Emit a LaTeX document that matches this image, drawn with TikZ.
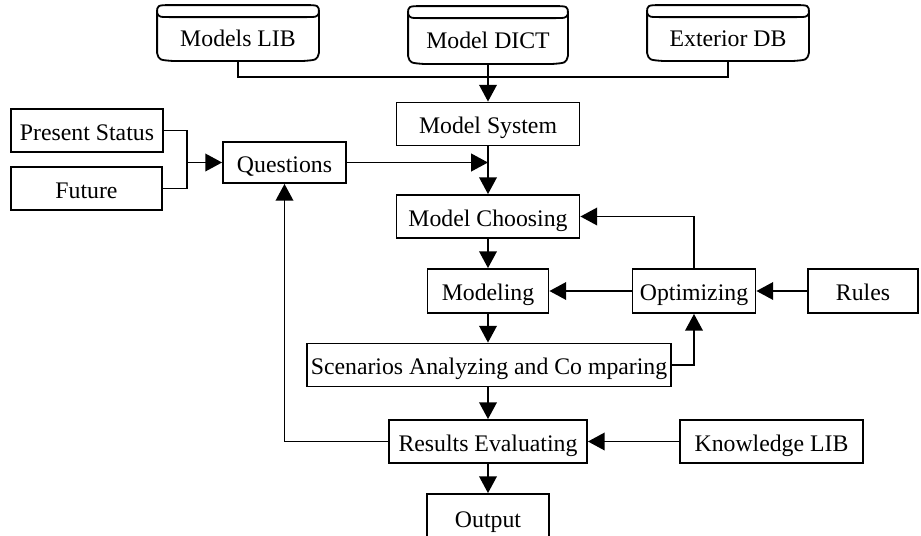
\documentclass[tikz,border=0pt]{standalone}
\usepackage{fontspec}
\setmainfont{Liberation Serif}
\usetikzlibrary{arrows.meta, positioning, calc}

\begin{document}
\begin{tikzpicture}[
    x=0.025cm, y=-0.025cm,
    line width=1.3pt,
    every node/.style={font=\fontsize{16.9}{20}\selectfont, inner sep=0pt},
    box/.style={draw, minimum height=43*0.025cm, text height=0.55cm, text depth=0.06cm},
    db/.style={minimum height=54*0.025cm, text height=0.72cm, text depth=0.055cm},
    arr/.style={-{Triangle[length=0.42cm, width=0.44cm]}}
]
    \useasboundingbox (0,0) rectangle (921,535);

    % --- data sources ---
    \node[db, minimum width=160*0.025cm] (mlib) at (238,33) {Models LIB};
    \node[db, minimum width=158*0.025cm, minimum height=56*0.025cm] (mdict) at (488,35) {Model DICT};
    \node[db, minimum width=160*0.025cm] (extdb) at (728,33) {Exterior DB};
    \foreach \n in {mlib,mdict,extdb} {
        \draw ([shift={(0,8)}]\n.north west) .. controls (\n.north west) .. ([shift={(15,0)}]\n.north west)
            -- ([shift={(-15,0)}]\n.north east) .. controls (\n.north east) .. ([shift={(0,8)}]\n.north east)
            -- ([shift={(0,-8)}]\n.south east) .. controls ([shift={(-2,-1)}]\n.south east) .. ([shift={(-15,0)}]\n.south east)
            -- ([shift={(15,0)}]\n.south west) .. controls ([shift={(2,-1)}]\n.south west) .. ([shift={(0,-8)}]\n.south west) -- cycle;
        \draw ([shift={(0,8)}]\n.north west) .. controls ([shift={(2,12)}]\n.north west) .. ([shift={(15,12)}]\n.north west)
            -- ([shift={(-15,12)}]\n.north east) .. controls ([shift={(-2,12)}]\n.north east) .. ([shift={(0,8)}]\n.north east);
    }
    \coordinate (bus) at (488,77);

    % --- main chain ---
    \node[box, minimum width=183*0.025cm] (msys) at (488,124) {Model System};
    \node[box, minimum width=183*0.025cm] (mchoose) at (488,216.5) {Model Choosing};
    \node[box, minimum width=121*0.025cm, minimum height=44*0.025cm] (modeling) at (488,291) {Modeling};
    \node[box, minimum width=364*0.025cm] (scen) at (489,365) {Scenarios Analyzing and Co mparing};
    \node[box, minimum width=198*0.025cm] (results) at (488,441.5) {Results Evaluating};
    \node[box, minimum width=122*0.025cm, minimum height=48*0.025cm] (output) at (488,518) {Output};

    % --- side boxes ---
    \node[box, minimum width=152*0.025cm] (present) at (87,130.5) {Present Status};
    \node[box, minimum width=151*0.025cm] (future) at (86.5,188.5) {Future};
    \node[box, minimum width=123*0.025cm, minimum height=41*0.025cm] (questions) at (284.5,162.5) {Questions};
    \coordinate (join) at (187,162.5);
    \node[box, minimum width=123*0.025cm, minimum height=44*0.025cm] (optim) at (694,291) {Optimizing};
    \node[box, minimum width=110*0.025cm, minimum height=44*0.025cm] (rules) at (863,291) {Rules};
    \node[box, minimum width=183*0.025cm] (know) at (771.5,441.5) {Knowledge LIB};

    % --- connectors ---
    \draw (mlib.south) |- (bus) -| (extdb.south);
    \draw[arr] (mdict.south) -- (msys.north);
    \draw (present.east) -| (join) |- (future.east);
    \draw[arr] (join) -- (questions.west);
    \draw[arr] (questions.east) -- (questions.east -| msys.south);
    \draw[arr] (msys.south) -- (mchoose.north);
    \draw[arr] (mchoose.south) -- (modeling.north);
    \draw[arr] (modeling.south) -- (modeling.south |- scen.north);
    \draw[arr] (scen.south -| results.north) -- (results.north);
    \draw[arr] (results.south) -- (output.north);
    \draw[arr] (optim.north) |- (mchoose.east);
    \draw[arr] (optim.west) -- (modeling.east);
    \draw[arr] (rules.west) -- (optim.east);
    \draw[arr] (scen.east) -| (optim.south);
    \draw[arr] (know.west) -- (results.east);
    \draw[arr] (results.west) -| (questions.south);
\end{tikzpicture}
\end{document}
